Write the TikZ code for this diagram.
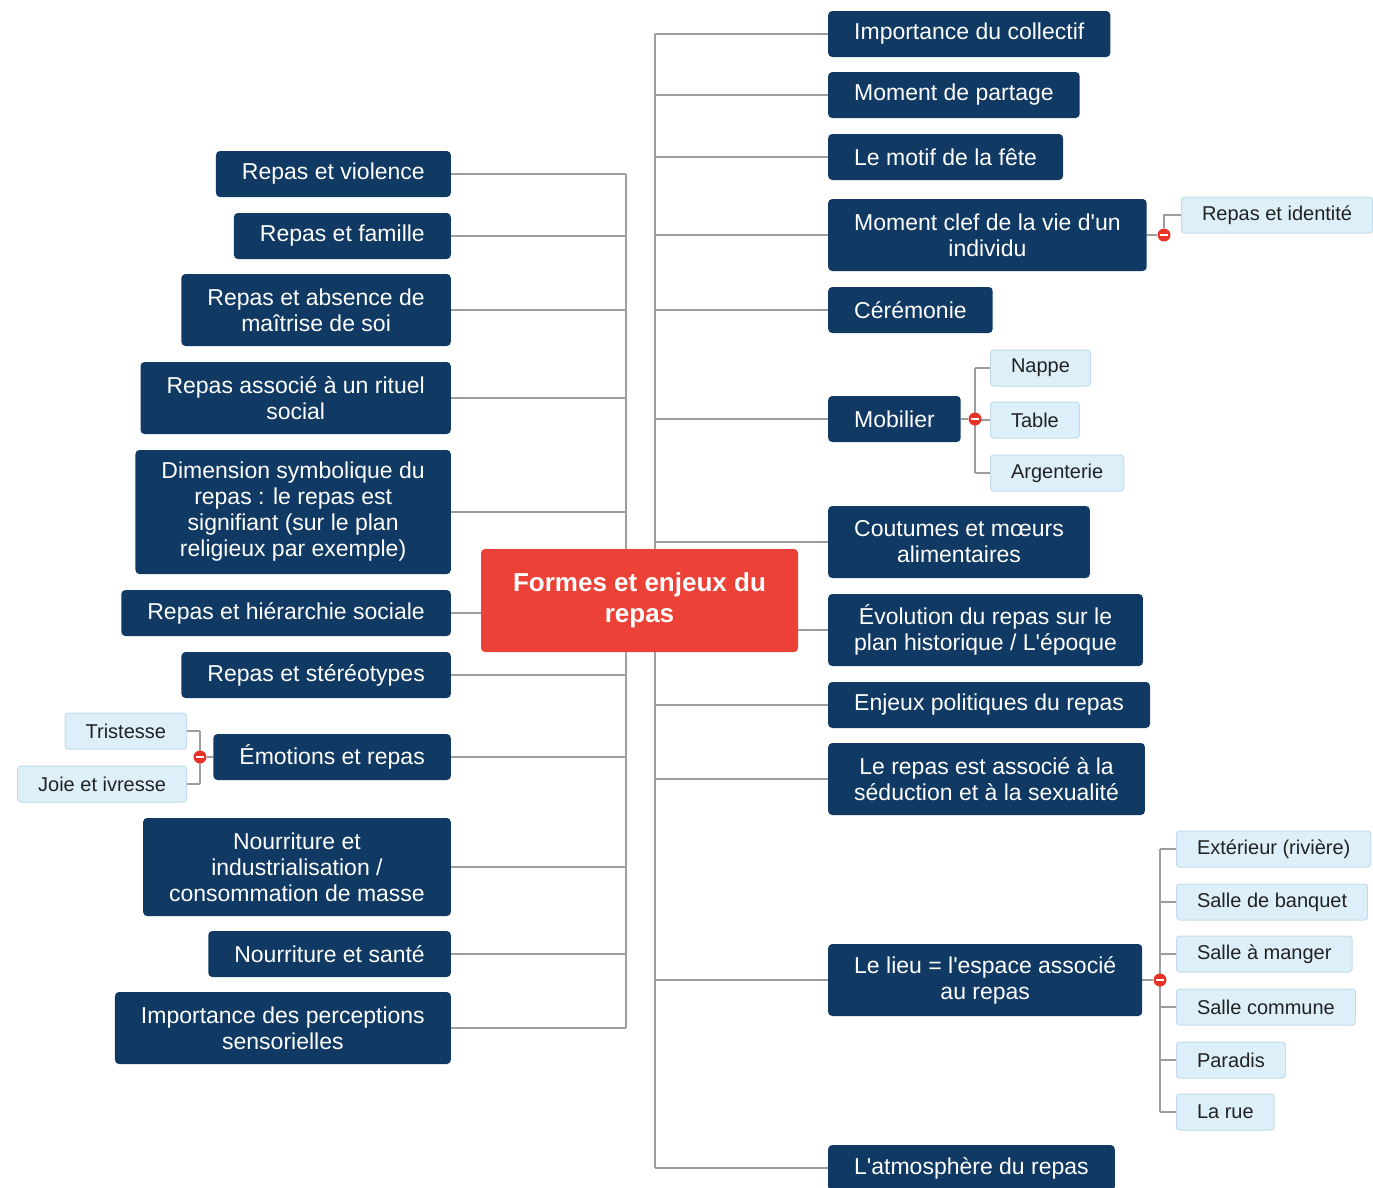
\documentclass[tikz,border=0pt]{standalone}
\usepackage{fontspec}
\setmainfont{Liberation Sans}
\usetikzlibrary{backgrounds}
\definecolor{navy}{RGB}{16,57,99}
\definecolor{mainred}{RGB}{236,65,54}
\definecolor{leafblue}{RGB}{221,240,249}
\definecolor{leafedge}{RGB}{196,220,233}
\definecolor{leaftext}{RGB}{34,34,34}
\definecolor{linkgray}{RGB}{158,158,158}
\definecolor{foldred}{RGB}{232,52,40}
\newcommand{\ap}{\textquotesingle}

\begin{document}
\begin{tikzpicture}[x=1pt,y=-1pt,line cap=round,line join=round,
    topic/.style={fill=navy,text=white,rounded corners=4pt,align=center,
      font=\fontsize{23}{26}\selectfont,inner xsep=26pt,inner ysep=0pt,minimum height=46pt},
    two/.style={minimum height=72pt},
    three/.style={minimum height=98pt},
    four/.style={minimum height=124pt},
    leaf/.style={fill=leafblue,draw=leafedge,line width=1pt,rounded corners=3pt,text=leaftext,
      font=\fontsize{20}{24}\selectfont,inner xsep=20.5pt,inner ysep=0pt,minimum height=36pt},
    link/.style={draw=linkgray,line width=2.8pt},
    fold/.style={circle,fill=foldred,inner sep=0pt,minimum size=13pt,
      path picture={\draw[white,line width=2.2pt,line cap=butt]
        ([xshift=-4pt]path picture bounding box.center) -- ([xshift=4pt]path picture bounding box.center);}}]
    \useasboundingbox (0,0) rectangle (1373,1187);
    \coordinate (trunkL) at (626,600);
    \coordinate (trunkR) at (655,600);

    \node[fill=mainred,text=white,rounded corners=4pt,align=center,minimum width=317pt,minimum height=103pt,
      font=\fontsize{26}{31}\selectfont\bfseries] (centre) at (639.5,600.5) {Formes et enjeux du\\repas};

    \node[topic,anchor=west] (imp) at (828,34) {Importance du collectif};
    \node[topic,anchor=west] (part) at (828,95) {Moment de partage};
    \node[topic,anchor=west] (fete) at (828,157) {Le motif de la fête};
    \node[topic,two,anchor=west] (clef) at (828,235) {Moment clef de la vie d\ap un\\individu};
    \node[topic,anchor=west] (cere) at (828,310) {Cérémonie};
    \node[topic,anchor=west] (mob) at (828,419) {Mobilier};
    \node[topic,two,anchor=west] (cout) at (828,542) {Coutumes et mœurs\\alimentaires};
    \node[topic,two,anchor=west] (evol) at (828,630) {Évolution du repas sur le\\plan historique / L\ap époque};
    \node[topic,anchor=west] (pol) at (828,705) {Enjeux politiques du repas};
    \node[topic,two,anchor=west] (sedu) at (828,779) {Le repas est associé à la\\séduction et à la sexualité};
    \node[topic,two,anchor=west] (lieu) at (828,980) {Le lieu = l\ap espace associé\\au repas};
    \node[topic,anchor=west] (atmo) at (828,1168) {L\ap atmosphère du repas};

    \node[topic,anchor=east] (viol) at (451,174) {Repas et violence};
    \node[topic,anchor=east] (fam) at (451,236) {Repas et famille};
    \node[topic,two,anchor=east] (abs) at (451,310) {Repas et absence de\\maîtrise de soi};
    \node[topic,two,anchor=east] (rit) at (451,398) {Repas associé à un rituel\\social};
    \node[topic,four,anchor=east] (symb) at (451,512) {Dimension symbolique du\\repas : le repas est\\signifiant (sur le plan\\religieux par exemple)};
    \node[topic,anchor=east] (hier) at (451,613) {Repas et hiérarchie sociale};
    \node[topic,anchor=east] (ster) at (451,675) {Repas et stéréotypes};
    \node[topic,anchor=east] (emo) at (451,757) {Émotions et repas};
    \node[topic,three,anchor=east] (indu) at (451,867) {Nourriture et\\industrialisation /\\consommation de masse};
    \node[topic,anchor=east] (sante) at (451,954) {Nourriture et santé};
    \node[topic,two,anchor=east] (sens) at (451,1028) {Importance des perceptions\\sensorielles};

    \node[leaf,anchor=west] (ident) at (1181,215) {Repas et identité};
    \node[leaf,anchor=west] (nappe) at (990,368) {Nappe};
    \node[leaf,anchor=west] (tab) at (990,420) {Table};
    \node[leaf,anchor=west] (arg) at (990,473) {Argenterie};
    \node[leaf,anchor=east] (trist) at (187,731) {Tristesse};
    \node[leaf,anchor=east] (joie) at (187,784) {Joie et ivresse};
    \node[leaf,anchor=west] (ext) at (1176,849) {Extérieur (rivière)};
    \node[leaf,anchor=west] (banq) at (1176,902) {Salle de banquet};
    \node[leaf,anchor=west] (mang) at (1176,954) {Salle à manger};
    \node[leaf,anchor=west] (comm) at (1176,1007) {Salle commune};
    \node[leaf,anchor=west] (para) at (1176,1060) {Paradis};
    \node[leaf,anchor=west] (rue) at (1176,1112) {La rue};

    \node[fold] (foldclef) at (1164,235) {};
    \node[fold] (foldmob) at (975,419) {};
    \node[fold] (foldemo) at (200,757) {};
    \node[fold] (foldlieu) at (1160,980) {};

    \begin{scope}[on background layer]
    \draw[link] (trunkR |- imp.west) -- (trunkR |- atmo.west);
    \foreach \n in {imp,part,fete,clef,cere,mob,cout,evol,pol,sedu,lieu,atmo}
    \draw[link] (trunkR |- \n.west) -- (\n.west);
    \draw[link] (trunkL |- viol.east) -- (trunkL |- sens.east);
    \foreach \n in {viol,fam,abs,rit,symb,hier,ster,emo,indu,sante,sens}
    \draw[link] (trunkL |- \n.east) -- (\n.east);

    \draw[link] (clef.east) -- (foldclef) |- (ident.west);
    \draw[link] (mob.east) -- (foldmob);
    \draw[link] (foldmob |- nappe.west) -- (foldmob |- arg.west);
    \foreach \n in {nappe,tab,arg}
    \draw[link] (foldmob |- \n.west) -- (\n.west);
    \draw[link] (emo.west) -- (foldemo);
    \draw[link] (foldemo |- trist.east) -- (foldemo |- joie.east);
    \foreach \n in {trist,joie}
    \draw[link] (foldemo |- \n.east) -- (\n.east);
    \draw[link] (lieu.east) -- (foldlieu);
    \draw[link] (foldlieu |- ext.west) -- (foldlieu |- rue.west);
    \foreach \n in {ext,banq,mang,comm,para,rue}
    \draw[link] (foldlieu |- \n.west) -- (\n.west);
    \end{scope}
\end{tikzpicture}
\end{document}
